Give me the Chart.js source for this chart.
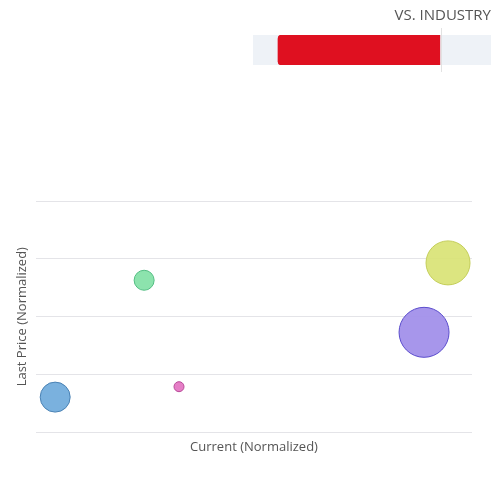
<!DOCTYPE html>
<html>
<head>
<meta charset="utf-8">
<script src="https://cdn.jsdelivr.net/npm/chart.js@4.4.1/dist/chart.umd.min.js"></script>
<style>
  html, body { margin: 0; padding: 0; background: #fff; }
  body { width: 491px; height: 484px; position: relative; overflow: hidden; }
  #barWrap { position: absolute; left: 253px; top: 0; width: 238px; height: 80px; }
  #bubbleWrap { position: absolute; left: 0; top: 180px; width: 491px; height: 275px; }
</style>
</head>
<body>
<div id="barWrap"><canvas id="chart1"></canvas></div>
<div id="bubbleWrap"><canvas id="chart2"></canvas></div>
<script>
// vs industry bar
const barLabels = ['VS. INDUSTRY'];
const barRange = [10.5, 78.5];
const industryMark = 79;

// bubbles
const names = ['A', 'B', 'C', 'D', 'E'];
const currentVals = [4.4, 32.8, 24.8, 94.5, 89.0];
const priceVals = [0.61, 0.79, 2.63, 2.93, 1.73];
const sizeVals = [15, 5, 10, 22, 25];
const fills = ['rgba(108,168,218,0.9)', 'rgba(226,112,192,0.9)', 'rgba(128,224,164,0.9)', 'rgba(216,226,114,0.9)', 'rgba(162,144,234,0.95)'];
const borders = ['#4a82b4', '#b84a98', '#52bd82', '#c3cd58', '#5a4ccc'];

Chart.defaults.font.family = "'Open Sans', sans-serif";
Chart.defaults.color = '#666';
Chart.defaults.animation = false;

const markerLine = {
    id: 'markerLine',
    afterDatasetsDraw(chart) {
        const x = chart.scales.x.getPixelForValue(industryMark);
        const c = chart.ctx;
        c.save();
        c.strokeStyle = '#e2e2e2';
        c.lineWidth = 1;
        c.beginPath();
        c.moveTo(Math.round(x) + 0.5, 28);
        c.lineTo(Math.round(x) + 0.5, 72);
        c.stroke();
        c.restore();
    }
};

new Chart(document.getElementById('chart1').getContext('2d'), {
    type: 'bar',
    data: {
        labels: barLabels,
        datasets: [{
            data: [barRange],
            backgroundColor: '#df1020',
            borderSkipped: false,
            borderRadius: { topLeft: 4, bottomLeft: 4, topRight: 0, bottomRight: 0 },
            categoryPercentage: 1,
            barPercentage: 1,
            grouped: false,
            order: 1
        }, {
            data: [[0, 100]],
            backgroundColor: '#eef2f7',
            categoryPercentage: 1,
            barPercentage: 1,
            grouped: false,
            order: 2
        }]
    },
    options: {
        indexAxis: 'y',
        responsive: true,
        maintainAspectRatio: false,
        layout: { padding: { top: 0, bottom: 15, left: 0, right: 0 } },
        plugins: {
            legend: { display: false },
            tooltip: { enabled: false },
            title: {
                display: true,
                text: 'VS. INDUSTRY',
                align: 'end',
                color: '#555',
                font: { size: 15, weight: 'normal' },
                padding: { top: 7, bottom: 10 }
            }
        },
        scales: {
            x: { display: false, min: 0, max: 100 },
            y: { display: false }
        }
    },
    plugins: [markerLine]
});

new Chart(document.getElementById('chart2').getContext('2d'), {
    type: 'bubble',
    data: {
        datasets: names.map((n, i) => ({
            label: n,
            data: [{ x: currentVals[i], y: priceVals[i], r: sizeVals[i] }],
            backgroundColor: fills[i],
            borderColor: borders[i],
            borderWidth: 1
        }))
    },
    options: {
        responsive: true,
        maintainAspectRatio: false,
        layout: { autoPadding: false, padding: { top: 21, left: 12.4, right: 19, bottom: 0 } },
        plugins: {
            legend: { display: false },
            tooltip: { enabled: false }
        },
        scales: {
            x: {
                min: 0,
                max: 100,
                grid: { display: false, drawTicks: false },
                border: { display: false },
                ticks: { display: false },
                title: {
                    display: true,
                    text: 'Current (Normalized)',
                    color: '#555',
                    font: { size: 13 },
                    padding: { top: 7, bottom: 0 }
                }
            },
            y: {
                min: 0,
                max: 4,
                grid: { color: '#e4e4e8', drawTicks: false },
                border: { display: false },
                ticks: { display: false, stepSize: 1 },
                title: {
                    display: true,
                    text: 'Last Price (Normalized)',
                    color: '#555',
                    font: { size: 13 },
                    padding: { top: 2, bottom: 6 }
                }
            }
        }
    }
});
</script>
</body>
</html>
